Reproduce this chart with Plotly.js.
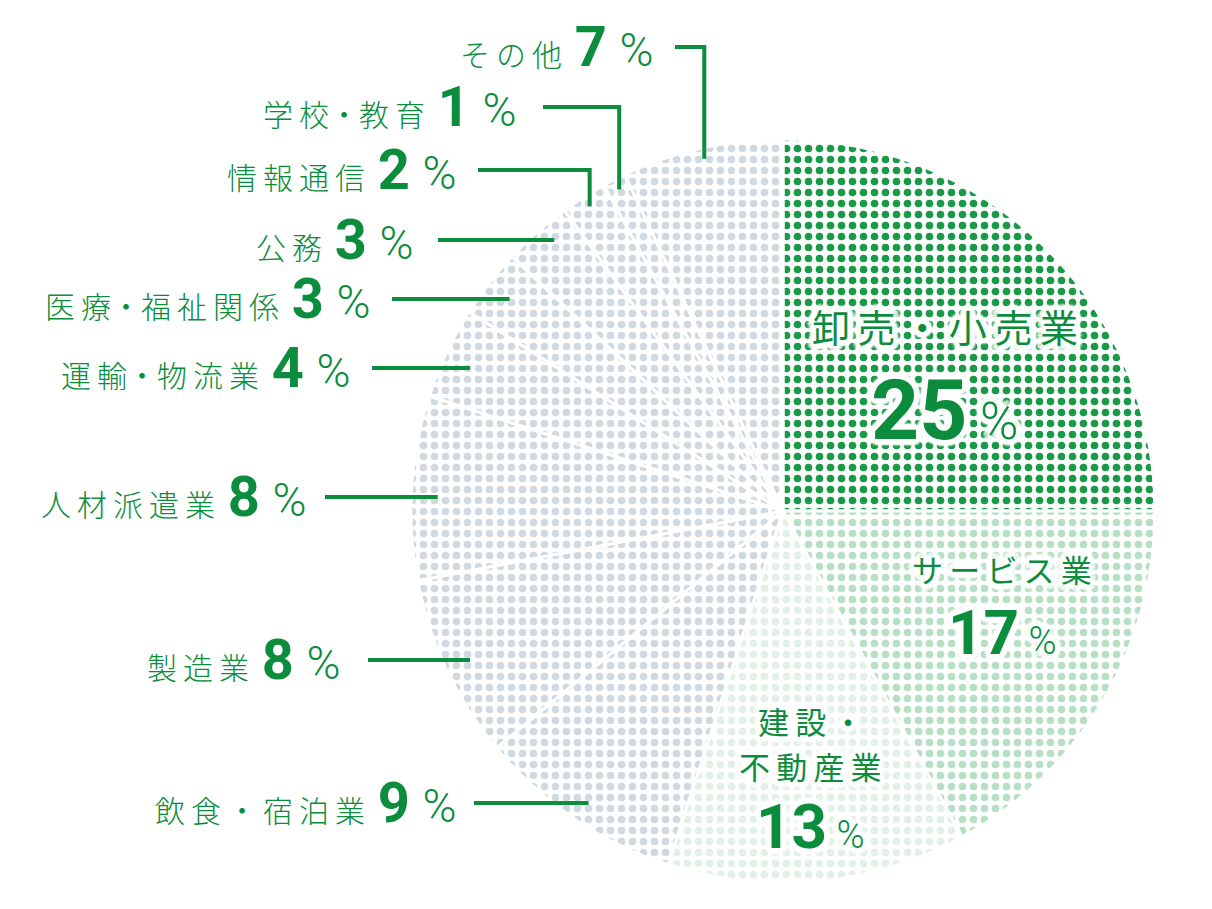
<!DOCTYPE html>
<html>
<head>
<meta charset="utf-8">
<script src="https://cdn.plot.ly/plotly-3.0.1.min.js"></script>
<style>html,body{margin:0;padding:0;background:#fff;}#chart{width:1212px;height:909px;}</style>
</head>
<body>
<div id="chart"></div>
<script>
// ---- data ----
const categories = ['卸売・小売業','サービス業','建設・不動産業','飲食・宿泊業','製造業','人材派遣業','運輸・物流業','医療・福祉関係','公務','情報通信','学校・教育','その他'];
const values = [25,17,13,9,8,8,4,3,3,2,1,7];
const insideNameLines = [['卸売・小売業'],['サービス業'],['建設・','不動産業']];

// ---- styles ----
const W = 1212, H = 909;
const CX = 783, CY = 511, R = 372;
const GREEN = '#0b8d3d';
const dotColors = ['#1a9a48','#b6dfc3','#e2f1e6','#d0d9e0','#d0d9e0','#d0d9e0','#d0d9e0','#d0d9e0','#d0d9e0','#d0d9e0','#d0d9e0','#d0d9e0'];
const JP = '"Noto Sans CJK JP", "Noto Sans", sans-serif';
const NUMF = "Roboto, 'Noto Sans', sans-serif";

// outside label layout (pixel positions of text and leader start), index into categories
const outerLayout = [
  {i:3,  y:803, right:458, start:474, elbow:false, wideDot:true},
  {i:4,  y:660, right:342, start:368, elbow:false},
  {i:5,  y:497, right:308, start:325, elbow:false},
  {i:6,  y:368, right:352, start:372, elbow:false},
  {i:7,  y:299, right:372, start:392, elbow:false},
  {i:8,  y:240, right:415, start:438, elbow:false},
  {i:9,  y:170, right:458, start:478, elbow:true},
  {i:10, y:107, right:518, start:543, elbow:true},
  {i:11, y:47,  right:655, start:675, elbow:true}
];
// inside label layout (name line y positions, percent y)
const innerLayout = [
  {i:0, x:945,  ny:[325],      py:410, nsize:38, psize:84},
  {i:1, x:1002, ny:[568],      py:632, nsize:31, psize:62},
  {i:2, x:810,  ny:[720, 765], py:826, nsize:31, psize:62}
];

const px = x => x / W;
const py = y => 1 - y / H;
const spaced = (s, wideDot) => {
  const ch = s.split('');
  let out = '';
  ch.forEach((c, k) => {
    out += c;
    if (k < ch.length - 1) {
      const next = ch[k+1];
      if (!wideDot && (c === '・' || next === '・')) return;
      out += '\u2009';
    }
  });
  return out;
};

const total = values.reduce((a,b)=>a+b,0);
const midAngle = [];
let cum = 0;
values.forEach(v => { midAngle.push((cum + v/2) / total * 2 * Math.PI); cum += v; });

const trace = {
  type: 'pie',
  values: values,
  labels: categories,
  sort: false,
  direction: 'clockwise',
  rotation: 0,
  textinfo: 'none',
  hoverinfo: 'none',
  showlegend: false,
  marker: {
    colors: values.map(()=> '#ffffff'),
    line: {color: '#ffffff', width: 3},
    pattern: {shape: '.', fgcolor: dotColors, bgcolor: values.map(()=> '#ffffff'), size: 11, solidity: 0.38, fillmode: 'replace'}
  },
  domain: {x: [(CX - R)/W, (CX + R)/W], y: [(H - CY - R)/H, (H - CY + R)/H]}
};

const annotations = [];
const shapes = [];

outerLayout.forEach(o => {
  const name = categories[o.i];
  const v = values[o.i];
  annotations.push({
    xref:'paper', yref:'paper', x: px(o.right), y: py(o.y), xanchor:'right', yanchor:'middle', showarrow:false,
    text: spaced(name, o.wideDot) + '\u2009 <span style="font-family:' + NUMF + ';font-size:56px"><b>' + v + '</b></span>\u2009 <span style="font-family:' + NUMF + ';font-size:46px;font-weight:300">%</span>',
    font: {family: JP, size: 30, color: GREEN, weight: 300}
  });
  const a = midAngle[o.i];
  if (!o.elbow) {
    const ex = CX + 0.93 * R * Math.sin(a);
    shapes.push({type:'line', xref:'paper', yref:'paper', x0: px(o.start), y0: py(o.y), x1: px(ex), y1: py(o.y), line:{color: GREEN, width: 4}});
  } else {
    const ex = CX + 0.97 * R * Math.sin(a);
    const ey = CY - 0.97 * R * Math.cos(a);
    shapes.push({type:'path', xref:'paper', yref:'paper',
      path: 'M ' + px(o.start) + ' ' + py(o.y) + ' L ' + px(ex) + ' ' + py(o.y) + ' L ' + px(ex) + ' ' + py(ey),
      line:{color: GREEN, width: 4}});
  }
});

const offs = [];
for (let k = 0; k < 12; k++) {
  const t = k / 12 * 2 * Math.PI;
  offs.push(Math.round(6*Math.cos(t)) + 'px ' + Math.round(6*Math.sin(t)) + 'px 2px #ffffff');
}
offs.push('0px 0px 4px #ffffff');
const halo = offs.join(', ');

innerLayout.forEach(o => {
  insideNameLines[o.i].forEach((line, j) => {
    annotations.push({
      xref:'paper', yref:'paper', x: px(o.x), y: py(o.ny[j]), xanchor:'center', yanchor:'middle', showarrow:false,
      text: spaced(line, true),
      font: {family: JP, size: o.nsize, color: GREEN, shadow: halo}
    });
  });
  annotations.push({
    xref:'paper', yref:'paper', x: px(o.x), y: py(o.py), xanchor:'center', yanchor:'middle', showarrow:false,
    text: '<b>' + values[o.i] + '</b><span style="font-size:' + Math.round(o.psize*0.62) + 'px;font-weight:300"> %</span>',
    font: {family: NUMF, size: o.psize, color: GREEN, shadow: halo}
  });
});

const layout = {
  width: W, height: H,
  margin: {l:0, r:0, t:0, b:0},
  paper_bgcolor: '#ffffff',
  showlegend: false,
  annotations: annotations,
  shapes: shapes
};

Plotly.newPlot('chart', [trace], layout, {displayModeBar: false, staticPlot: true});
</script>
</body>
</html>
